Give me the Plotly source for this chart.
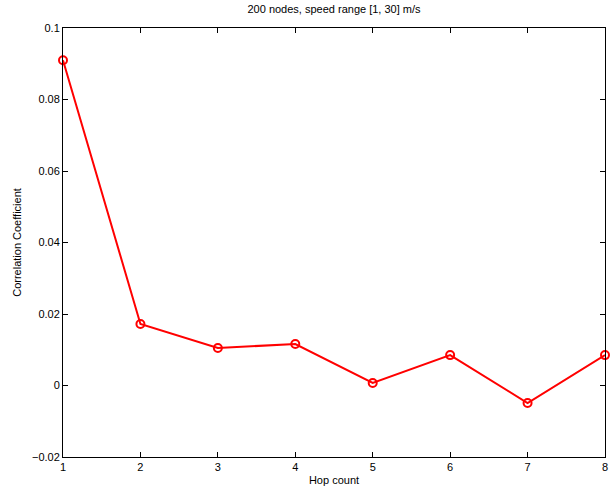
import plotly.graph_objects as go

hops = [1, 2, 3, 4, 5, 6, 7, 8]
corr = [0.0910, 0.0172, 0.0105, 0.0116, 0.0007, 0.0085, -0.0049, 0.0085]
x_ticks = [1, 2, 3, 4, 5, 6, 7, 8]
y_ticks = [-0.02, 0, 0.02, 0.04, 0.06, 0.08, 0.1]
y_tick_text = ["\u22120.02", "0", "0.02", "0.04", "0.06", "0.08", "0.1"]

fig = go.Figure()
fig.add_trace(go.Scatter(
    x=hops, y=corr, mode="lines+markers",
    line=dict(color="#ff0000", width=2),
    marker=dict(symbol="circle-open", size=8, color="#ff0000", line=dict(width=2)),
    cliponaxis=False,
    showlegend=False,
))

font = dict(family="Liberation Sans, Arial, sans-serif", size=11, color="black")
fig.update_layout(
    width=611, height=492,
    margin=dict(l=63, r=3, t=28, b=35),
    paper_bgcolor="white", plot_bgcolor="white",
    font=font,
    title=dict(text="200 nodes, speed range [1, 30] m/s", x=0.5, xref="paper",
               y=1, yref="container", yanchor="top", pad=dict(t=5),
               font=dict(size=11, family=font["family"], color="black")),
)
axis_common = dict(showline=True, linecolor="black", linewidth=1, mirror="ticks",
                   ticks="inside", ticklen=5, tickcolor="black", showgrid=False,
                   zeroline=False, tickfont=font, ticklabeloverflow="allow")
fig.update_xaxes(range=[1, 8], tickvals=x_ticks, ticktext=[str(t) for t in x_ticks],
                 title=dict(text="Hop count", font=font, standoff=4), **axis_common)
fig.update_yaxes(range=[-0.02, 0.1], tickvals=y_ticks, ticktext=y_tick_text,
                 title=dict(text="Correlation Coefficient", font=font, standoff=8), **axis_common)

fig.write_html("out.html")
